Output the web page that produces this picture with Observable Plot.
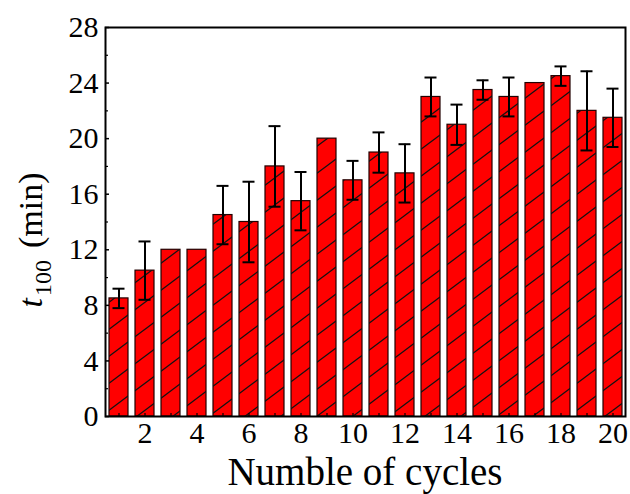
<!DOCTYPE html>
<html><head><meta charset="utf-8">
<script src="https://cdn.jsdelivr.net/npm/d3@7"></script>
<script src="https://cdn.jsdelivr.net/npm/@observablehq/plot@0.6"></script>
<style>body{margin:0;background:#fff} svg{display:block}</style>
</head><body><div id="chart"></div>
<script>
const cycles = [1,2,3,4,5,6,7,8,9,10,11,12,13,14,15,16,17,18,19,20];
const t100 = [8.5,10.5,12,12,14.5,14,18,15.5,20,17,19,17.5,23,21,23.5,23,24,24.5,22,21.5];
const t100Err = [0.7,2.1,0,0,2.1,2.9,2.9,2.1,0,1.4,1.45,2.1,1.4,1.45,0.7,1.4,0,0.7,2.85,2.1];
const yTicks = [0,4,8,12,16,20,24,28];
const yMinorTicks = [2,6,10,14,18,22,26];
const xTickLabels = [2,4,6,8,10,12,14,16,18,20];
const xTitle = "Numble of cycles";
const yTitleVar = "t", yTitleSub = "100", yTitleUnit = "(min)";

const data = cycles.map((c, i) => ({c, v: t100[i], e: t100Err[i]}));
const errData = data.filter(d => d.e > 0);

const W = 630, H = 494, mL = 105, mR = 5, mT = 27, mB = 78;
const plotW = W - mL - mR, plotH = H - mT - mB;

const svg = Plot.plot({
  width: W, height: H,
  marginLeft: mL, marginRight: mR, marginTop: mT, marginBottom: mB,
  style: {fontFamily: "'Liberation Serif', 'Times New Roman', serif", background: "white", color: "black"},
  x: {type: "band", domain: cycles, paddingInner: 0.27, paddingOuter: 0.135},
  y: {domain: [0, 28]},
  marks: [
    Plot.barY(data, {x: "c", y: "v", fill: "#ff0000", stroke: "#220000", strokeWidth: 1.2}),
    Plot.barY(data, {x: "c", y: "v", fill: "url(#hatch)"}),
    Plot.ruleX(errData, {x: "c", y1: d => d.v - d.e, y2: d => d.v + d.e, stroke: "black", strokeWidth: 2}),
    Plot.tickY(errData, {x: "c", y: d => d.v + d.e, insetLeft: 3.5, insetRight: 3.5, stroke: "black", strokeWidth: 2}),
    Plot.tickY(errData, {x: "c", y: d => d.v - d.e, insetLeft: 3.5, insetRight: 3.5, stroke: "black", strokeWidth: 2}),
    Plot.ruleY(yTicks, {y: d => d, insetRight: plotW - 4, stroke: "black", strokeWidth: 1.5}),
    Plot.ruleY(yMinorTicks, {y: d => d, insetRight: plotW - 3, stroke: "black", strokeWidth: 1.2}),
    Plot.ruleX(cycles, {x: d => d, insetTop: plotH - 3, stroke: "black", strokeWidth: 1.2}),
    Plot.frame({stroke: "black", strokeWidth: 2}),
    Plot.axisY(yTicks, {tickSize: 0, tickPadding: 7, fontSize: 30, label: null}),
    Plot.axisX(xTickLabels, {tickSize: 0, tickPadding: 5, fontSize: 30, label: null})
  ]
});

const s = d3.select(svg);
const defs = s.insert("defs", ":first-child");
const pat = defs.append("pattern").attr("id", "hatch").attr("patternUnits", "userSpaceOnUse")
  .attr("width", 36).attr("height", 27).attr("y", 6);
[-1, 0, 1].forEach(k => {
  pat.append("path").attr("d", `M-12,${27 + 27 * k + 9}L48,${27 * k - 9}`)
    .attr("stroke", "#111").attr("stroke-width", 1.3).attr("fill", "none");
});

s.append("text").attr("x", mL + plotW / 2).attr("y", 485).attr("text-anchor", "middle")
  .attr("font-size", 39).attr("fill", "black").text(xTitle);

const yt = s.append("text").attr("transform", "translate(42,240) rotate(-90)")
  .attr("text-anchor", "middle").attr("font-size", 34).attr("fill", "black");
yt.append("tspan").attr("font-style", "italic").text(yTitleVar);
yt.append("tspan").attr("font-size", 24).attr("dy", 9).attr("dx", 2).text(yTitleSub);
yt.append("tspan").attr("dy", -9).attr("dx", 12).text(yTitleUnit);

document.getElementById("chart").appendChild(svg);
</script>
</body></html>
